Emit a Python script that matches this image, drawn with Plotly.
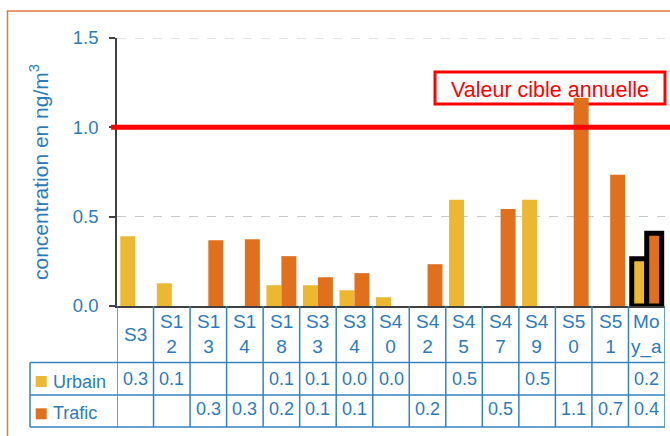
import plotly.graph_objects as go

categories = ["S3", "S12", "S13", "S14", "S18", "S33", "S34", "S40", "S42",
              "S45", "S47", "S49", "S50", "S51", "Moy_a"]
urbain = [0.39, 0.127, None, None, 0.116, 0.116, 0.088, 0.049, None,
          0.594, None, 0.594, None, None, 0.265]
trafic = [None, None, 0.368, 0.374, 0.279, 0.161, 0.184, None, 0.234,
          None, 0.543, None, 1.165, 0.734, 0.407]
urbain_labels = ["0.3", "0.1", "", "", "0.1", "0.1", "0.0", "0.0", "",
                 "0.5", "", "0.5", "", "", "0.2"]
trafic_labels = ["", "", "0.3", "0.3", "0.2", "0.1", "0.1", "", "0.2",
                 "", "0.5", "", "1.1", "0.7", "0.4"]
target_value = 1.0
target_label = "Valeur cible annuelle"
y_ticks = [0.0, 0.5, 1.0, 1.5]

FONT = "Liberation Sans, Arial, sans-serif"
FS = 18
BLUE = "#2b7bba"
TLINE = "#3483bf"
C_URB = "#ecb731"
C_TRA = "#e0701e"

WIDTH, HEIGHT = 670, 436
L, R, T, B = 117, 5, 38, 130
PW = WIDTH - L - R
PH = HEIGHT - T - B
Y0 = HEIGHT - B


def px(xp):
    return (xp - L) / PW


def py(yp):
    return (Y0 - yp) / PH


n = len(categories)
last = [0] * (n - 1) + [5]

fig = go.Figure()
fig.add_trace(go.Bar(x=categories, y=urbain, name="Urbain", marker_color=C_URB,
                     marker_line_color="black", marker_line_width=last))
fig.add_trace(go.Bar(x=categories, y=trafic, name="Trafic", marker_color=C_TRA,
                     marker_line_color="black", marker_line_width=last))

shapes = []
# outer frame
shapes.append(dict(type="rect", xref="paper", yref="paper", x0=px(7.5), x1=px(700),
                   y0=py(470), y1=py(11), line=dict(color="#e07b39", width=1.5),
                   layer="below"))
# top gridline (at the range edge)
shapes.append(dict(type="line", xref="paper", yref="y", x0=0, x1=1,
                   y0=y_ticks[-1], y1=y_ticks[-1],
                   line=dict(color="#c8c8c8", width=1, dash="dash"), layer="below"))
# target box (behind bars)
shapes.append(dict(type="rect", xref="paper", yref="paper", x0=px(435), x1=px(665),
                   y0=py(104), y1=py(72), line=dict(color="#ff0000", width=3),
                   layer="below"))
# target line
shapes.append(dict(type="line", xref="paper", yref="y", x0=px(111), x1=px(672),
                   y0=target_value, y1=target_value,
                   line=dict(color="#ff0000", width=5)))
# table lines
row_lines = [362.5, 395, 427]
for yp in row_lines:
    shapes.append(dict(type="line", xref="paper", yref="paper", x0=px(30), x1=px(665),
                       y0=py(yp), y1=py(yp), line=dict(color=TLINE, width=1.5)))
for k in range(n + 1):
    shapes.append(dict(type="line", xref="x", yref="paper", x0=k - 0.5, x1=k - 0.5,
                       y0=py(Y0), y1=py(427), line=dict(color=TLINE, width=1.5)))
shapes.append(dict(type="line", xref="paper", yref="paper", x0=px(30), x1=px(30),
                   y0=py(362.5), y1=py(427), line=dict(color=TLINE, width=1.5)))
# legend squares
shapes.append(dict(type="rect", xref="paper", yref="paper", x0=px(35.7), x1=px(46.7),
                   y0=py(387), y1=py(376), line=dict(width=0), fillcolor=C_URB))
shapes.append(dict(type="rect", xref="paper", yref="paper", x0=px(35.7), x1=px(46.7),
                   y0=py(419.3), y1=py(408.3), line=dict(width=0), fillcolor=C_TRA))

annotations = []
f = dict(family=FONT, size=FS, color=BLUE)
for cat, ul, tl in zip(categories, urbain_labels, trafic_labels):
    lab = cat if len(cat) <= 2 else cat[:2] + "<br>" + cat[2:]
    annotations.append(dict(x=cat, xref="x", y=py(334), yref="paper", text=lab,
                            showarrow=False, font=dict(family=FONT, size=19, color=BLUE),
                            yanchor="middle"))
    if ul:
        annotations.append(dict(x=cat, xref="x", y=py(378.7), yref="paper", text=ul,
                                showarrow=False, font=f, yanchor="middle"))
    if tl:
        annotations.append(dict(x=cat, xref="x", y=py(409.2), yref="paper", text=tl,
                                showarrow=False, font=f, yanchor="middle"))
annotations.append(dict(x=px(50.5), xref="paper", y=py(381.5), yref="paper", text="Urbain",
                        showarrow=False, font=f, xanchor="left", yanchor="middle"))
annotations.append(dict(x=px(50.5), xref="paper", y=py(413), yref="paper", text="Trafic",
                        showarrow=False, font=f, xanchor="left", yanchor="middle"))
annotations.append(dict(x=px(39), xref="paper", y=py(172), yref="paper",
                        text="concentration en ng/m<sup>3</sup>", textangle=-90,
                        showarrow=False, font=dict(family=FONT, size=21, color=BLUE),
                        xanchor="center", yanchor="middle"))
annotations.append(dict(x=px(550), xref="paper", y=py(90), yref="paper", text=target_label,
                        showarrow=False, font=dict(family=FONT, size=21.5, color="#ff0000"),
                        xanchor="center", yanchor="middle"))

fig.update_layout(
    width=WIDTH, height=HEIGHT,
    margin=dict(l=L, r=R, t=T, b=B),
    paper_bgcolor="white", plot_bgcolor="white",
    barmode="group", bargap=0.18, bargroupgap=0,
    showlegend=False,
    shapes=shapes, annotations=annotations,
    font=dict(family=FONT, size=FS, color=BLUE),
    xaxis=dict(range=[-0.5, n - 0.5], showticklabels=False, ticks="",
               showgrid=False, showline=True, linecolor="#404040", linewidth=1.5,
               zeroline=False, fixedrange=True),
    yaxis=dict(range=[0, 1.5], tickvals=y_ticks, tickformat=".1f",
               ticks="outside", ticklen=6, tickcolor="#404040", tickwidth=1.5,
               showline=True, linecolor="#404040", linewidth=1.5,
               showgrid=True, gridcolor="#c8c8c8", griddash="dash", gridwidth=1,
               zeroline=False, tickfont=dict(family=FONT, size=18.5, color=BLUE),
               ticklabelstandoff=7, fixedrange=True),
)

fig.write_html("out.html", config={"displayModeBar": False},
               post_script="document.body.style.margin='0';")
